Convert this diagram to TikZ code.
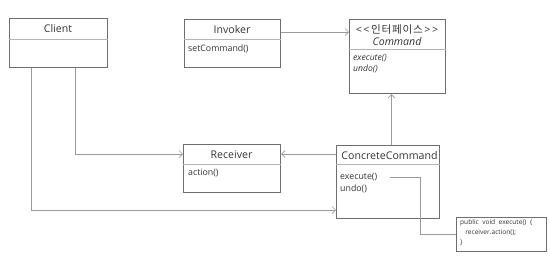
\documentclass[tikz,border=0pt]{standalone}
\usepackage{fontspec}
\setmainfont{Open Sans}
\newfontfamily\krfont{Noto Sans CJK KR}
\usetikzlibrary{arrows.meta}
\definecolor{boxline}{HTML}{6E6E6E}
\definecolor{divline}{HTML}{B4B4B4}
\definecolor{connline}{HTML}{9A9A9A}
\definecolor{txt}{HTML}{333333}
\tikzset{
  umlbox/.style={draw=boxline, line width=1.1pt, rectangle, anchor=north west, inner sep=0pt},
  divider/.style={draw=divline, line width=0.6pt},
  conn/.style={draw=connline, line width=0.8pt, -{Straight Barb[length=3.5pt,width=7pt,line width=0.7pt]}},
  plainconn/.style={draw=connline, line width=0.7pt},
  title/.style={font=\fontsize{10.6}{12}\selectfont, text=txt, inner sep=0pt},
  meth/.style={font=\fontsize{8.8}{10}\selectfont, text=txt, inner sep=0pt, anchor=west},
  notetxt/.style={font=\fontsize{6.6}{10}\selectfont, text=txt, inner sep=0pt, align=left, anchor=north west},
}
\begin{document}
\begin{tikzpicture}[x=1pt,y=-1pt]
\useasboundingbox (0,0) rectangle (550,269);
% Client
\node[umlbox, minimum width=98pt, minimum height=49pt] (client) at (9,18) {};
\draw[divider] ([yshift=-21pt]client.north west) -- ([yshift=-21pt]client.north east);
\node[title] (clientT) at (58,28.5) {Client};
% Invoker
\node[umlbox, minimum width=96pt, minimum height=48pt] (invoker) at (184,19) {};
\draw[divider] ([yshift=-20pt]invoker.north west) -- ([yshift=-20pt]invoker.north east);
\node[title] (invokerT) at (232,29.5) {Invoker};
\node[meth] (invokerM) at (188,49) {setCommand()};
% Command
\node[umlbox, minimum width=96pt, minimum height=74pt] (command) at (349,19) {};
\draw[divider] ([yshift=-30pt]command.north west) -- ([yshift=-30pt]command.north east);
\node[title] (commandS) at (397,30) {<\kern1.5pt<\kern1.5pt{\krfont 인\kern0.8pt터\kern0.8pt페\kern0.8pt이\kern0.8pt스}\kern1.5pt>\kern1.5pt>};
\node[title, font=\fontsize{10.6}{12}\selectfont\itshape] (commandT) at (397,42) {Command};
\node[meth, font=\fontsize{8.6}{10}\selectfont\itshape] (commandM1) at (353,58) {execute()};
\node[meth, font=\fontsize{8.6}{10}\selectfont\itshape] (commandM2) at (353,69) {undo()};
% Receiver
\node[umlbox, minimum width=97pt, minimum height=48pt] (receiver) at (183,144) {};
\draw[divider] ([yshift=-20pt]receiver.north west) -- ([yshift=-20pt]receiver.north east);
\node[title] (receiverT) at (231.5,154.5) {Receiver};
\node[meth] (receiverM) at (188,173) {action()};
% ConcreteCommand
\node[umlbox, minimum width=103pt, minimum height=73pt] (concrete) at (336,145) {};
\draw[divider] ([yshift=-19pt]concrete.north west) -- ([yshift=-19pt]concrete.north east);
\node[title] (concreteT) at (389.5,156) {ConcreteCommand};
\node[meth] (concreteM1) at (340,177) {execute()};
\node[meth] (concreteM2) at (340,189) {undo()};
% Note
\node[umlbox, draw=boxline, line width=0.7pt, minimum width=90pt, minimum height=34pt] (note) at (456,217) {};
\node[notetxt] (noteT) at (460,219.5) {public\ \ void\ \ execute()\ \ \{\\\ \ \ receiver.action();\\\}};
% connectors
\draw[conn] ([yshift=-13pt]invoker.north east) -- ([yshift=-13pt]command.north west);
\draw[conn] ([xshift=3.5pt]concrete.north) -- ([xshift=3.5pt]concrete.north |- command.south);
\draw[conn] ([yshift=-9pt]concrete.north west) -- ([yshift=-10pt]receiver.north east);
\draw[conn] ([xshift=66pt]client.south west) |- ([yshift=-10pt]receiver.north west);
\draw[conn] ([xshift=22pt]client.south west) |- ([yshift=-65pt]concrete.north west);
\coordinate (nstart) at (390,177);
\draw[plainconn] (nstart) -| ([xshift=-36pt]note.west) -- (note.west);
\end{tikzpicture}
\end{document}
